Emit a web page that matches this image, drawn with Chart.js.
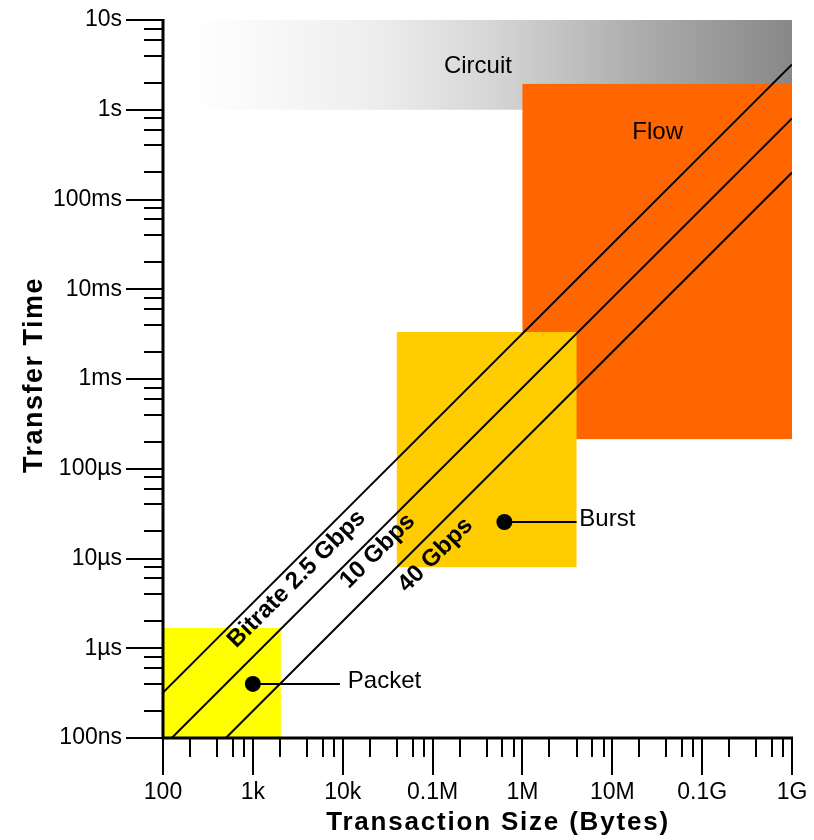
<!DOCTYPE html>
<html>
<head>
<meta charset="utf-8">
<script src="https://cdn.jsdelivr.net/npm/chart.js@4/dist/chart.umd.min.js"></script>
<style>
  body { margin: 0; background: #fff; }
  #wrap { width: 814px; height: 840px; }
</style>
</head>
<body>
<div id="wrap"><canvas id="chart"></canvas></div>
<script>
// axis ticks
const xTickValues = [1e2, 1e3, 1e4, 1e5, 1e6, 1e7, 1e8, 1e9];
const xTickLabels = ['100', '1k', '10k', '0.1M', '1M', '10M', '0.1G', '1G'];
const yTickValues = [1e-7, 1e-6, 1e-5, 1e-4, 1e-3, 1e-2, 1e-1, 1, 10];
const yTickLabels = ['100ns', '1µs', '10µs', '100µs', '1ms', '10ms', '100ms', '1s', '10s'];
const minorSteps = [2, 4, 6, 8];

// shaded regions (bytes, seconds)
const regionNames = ['Circuit', 'Flow', 'Burst', 'Packet'];
const regionColors = ['gradient', '#ff6600', '#ffcc00', '#ffff00'];
const regionXFrom = [200, 1e6, 4e4, 100];
const regionXTo = [1e9, 1e9, 4e6, 2050];
const regionYFrom = [1, 2.14e-4, 8e-6, 1e-7];
const regionYTo = [10, 1.94, 3.34e-3, 1.68e-6];
const regionLabelX = [3.2e5, 3.2e7];
const regionLabelY = [3.07, 0.565];

// bitrate lines
const rateLabels = ['Bitrate 2.5 Gbps', '10 Gbps', '40 Gbps'];
const rateFromX = [100, 125, 500];
const rateFromY = [3.2e-7, 1e-7, 1e-7];
const rateToX = [1e9, 1e9, 1e9];
const rateToY = [3.2, 0.8, 0.2];
const rateLabelX = [3080, 2.45e4, 1.08e5];
const rateLabelY = [5.9e-6, 1.21e-5, 1.09e-5];

// marked points
const dotNames = ['Packet', 'Burst'];
const dotX = [1000, 6.3e5];
const dotY = [4e-7, 2.55e-5];
const leaderEndX = [9300, 4e6];
const dotLabelX = [1.14e4, 4.3e6];

const FONT = '"Liberation Sans", Arial, sans-serif';

function buildTicks(majors) {
  const out = [];
  majors.forEach((v, i) => {
    out.push({ value: v, major: true });
    if (i < majors.length - 1) minorSteps.forEach(m => out.push({ value: v * m, major: false }));
  });
  return out;
}

function labelFor(values, labels) {
  return (val, idx, ticks) => {
    if (!ticks[idx].major) return '';
    const i = values.findIndex(v => Math.abs(Math.log10(v / val)) < 1e-6);
    return i < 0 ? '' : labels[i];
  };
}

const datasets = [];
rateLabels.forEach((n, i) => {
  datasets.push({
    label: n,
    data: [{ x: rateFromX[i], y: rateFromY[i] }, { x: rateToX[i], y: rateToY[i] }],
    showLine: true, borderColor: '#000', borderWidth: 2, pointRadius: 0
  });
});
dotNames.forEach((n, i) => {
  datasets.push({
    label: n + ' leader',
    data: [{ x: dotX[i], y: dotY[i] }, { x: leaderEndX[i], y: dotY[i] }],
    showLine: true, borderColor: '#000', borderWidth: 2, pointRadius: 0
  });
});
datasets.push({
  label: 'points',
  data: dotX.map((v, i) => ({ x: v, y: dotY[i] })),
  pointRadius: 8, pointBackgroundColor: '#000', pointBorderWidth: 0
});

const decor = {
  id: 'decor',
  beforeDatasetsDraw(chart) {
    const { ctx, scales: { x, y } } = chart;
    ctx.save();
    regionNames.forEach((n, i) => {
      const l = x.getPixelForValue(regionXFrom[i]), r = x.getPixelForValue(regionXTo[i]);
      const t = y.getPixelForValue(regionYTo[i]), b = y.getPixelForValue(regionYFrom[i]);
      let fill = regionColors[i];
      if (fill === 'gradient') {
        fill = ctx.createLinearGradient(l, 0, r, 0);
        fill.addColorStop(0, '#ffffff');
        fill.addColorStop(0.3, '#eeeeee');
        fill.addColorStop(0.5, '#d6d6d6');
        fill.addColorStop(0.75, '#acacac');
        fill.addColorStop(1, '#888888');
      }
      ctx.fillStyle = fill;
      ctx.fillRect(l, t, r - l, b - t);
    });
    ctx.fillStyle = '#000';
    ctx.font = '24px ' + FONT;
    ctx.textAlign = 'center';
    ctx.textBaseline = 'middle';
    regionLabelX.forEach((v, i) => {
      ctx.fillText(regionNames[i], x.getPixelForValue(v), y.getPixelForValue(regionLabelY[i]));
    });
    ctx.restore();
  },
  afterDatasetsDraw(chart) {
    const { ctx, scales: { x, y } } = chart;
    ctx.save();
    ctx.fillStyle = '#000';
    ctx.font = 'bold 24px ' + FONT;
    ctx.textAlign = 'center';
    ctx.textBaseline = 'middle';
    rateLabels.forEach((n, i) => {
      const ang = Math.atan2(
        y.getPixelForValue(rateToY[i]) - y.getPixelForValue(rateFromY[i]),
        x.getPixelForValue(rateToX[i]) - x.getPixelForValue(rateFromX[i]));
      ctx.save();
      ctx.translate(x.getPixelForValue(rateLabelX[i]), y.getPixelForValue(rateLabelY[i]));
      ctx.rotate(ang);
      ctx.fillText(n, 0, 0);
      ctx.restore();
    });
    ctx.font = '24px ' + FONT;
    ctx.textAlign = 'left';
    dotNames.forEach((n, i) => {
      ctx.fillText(n, x.getPixelForValue(dotLabelX[i]), y.getPixelForValue(dotY[i]) - 3);
    });
    ctx.restore();
  },
  afterDraw(chart) {
    const { ctx, scales: { x, y } } = chart;
    const left = x.left, bottom = y.bottom, top = y.top, right = x.right;
    ctx.save();
    ctx.strokeStyle = '#000';
    ctx.lineWidth = 2;
    ctx.beginPath();
    y.ticks.forEach(t => {
      const p = Math.round(y.getPixelForValue(t.value));
      const len = t.major ? 37 : 19;
      ctx.moveTo(left - len, p); ctx.lineTo(left, p);
    });
    x.ticks.forEach(t => {
      const p = Math.round(x.getPixelForValue(t.value));
      const len = t.major ? 37 : 19;
      ctx.moveTo(p, bottom); ctx.lineTo(p, bottom + len);
    });
    ctx.stroke();
    ctx.lineWidth = 3;
    ctx.beginPath();
    ctx.moveTo(left, top - 1); ctx.lineTo(left, bottom);
    ctx.lineTo(right + 1, bottom);
    ctx.stroke();

    ctx.fillStyle = '#000';
    ctx.font = 'bold 26px ' + FONT;
    ctx.letterSpacing = '1.8px';
    ctx.textAlign = 'center';
    ctx.textBaseline = 'alphabetic';
    ctx.fillText('Transaction Size (Bytes)', 498, 830);
    ctx.font = 'bold 27px ' + FONT;
    ctx.letterSpacing = '1.5px';
    ctx.translate(42, 375);
    ctx.rotate(-Math.PI / 2);
    ctx.fillText('Transfer Time', 0, 0);
    ctx.restore();
  }
};

new Chart(document.getElementById('chart'), {
  type: 'scatter',
  data: { datasets },
  options: {
    responsive: true,
    maintainAspectRatio: false,
    animation: false,
    layout: { padding: { top: 20, right: 22, left: 0, bottom: 0 } },
    plugins: { legend: { display: false }, tooltip: { enabled: false } },
    scales: {
      x: {
        type: 'logarithmic', min: 1e2, max: 1e9,
        afterBuildTicks: s => { s.ticks = buildTicks(xTickValues); },
        afterFit: s => { s.height = 102; },
        grid: { display: false, tickLength: 37 },
        border: { display: false },
        ticks: {
          autoSkip: false, maxRotation: 0, padding: 4,
          color: '#000', font: { family: FONT, size: 23 },
          callback: labelFor(xTickValues, xTickLabels)
        }
      },
      y: {
        type: 'logarithmic', min: 1e-7, max: 10,
        afterBuildTicks: s => { s.ticks = buildTicks(yTickValues); },
        afterFit: s => { s.width = 163; },
        grid: { display: false, tickLength: 37 },
        border: { display: false },
        ticks: {
          autoSkip: false, padding: 4,
          color: '#000', font: { family: FONT, size: 23 },
          callback: labelFor(yTickValues, yTickLabels)
        }
      }
    }
  },
  plugins: [decor]
});
</script>
</body>
</html>
